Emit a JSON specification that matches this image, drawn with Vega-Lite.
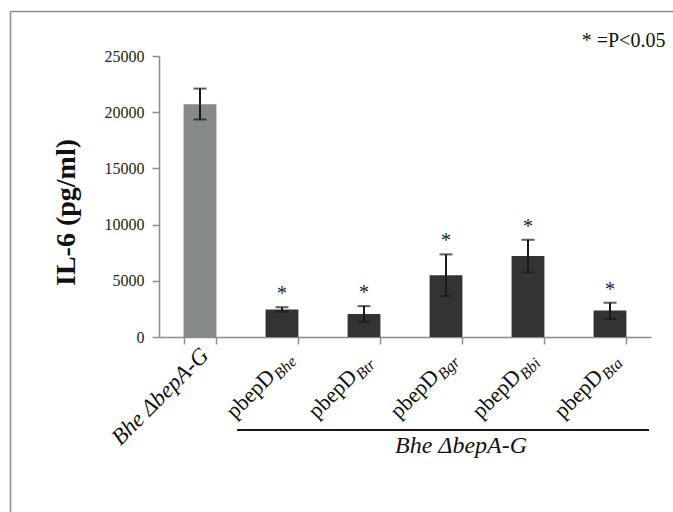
{
  "$schema": "https://vega.github.io/schema/vega-lite/v6.json",
  "autosize": "none",
  "width": 492,
  "height": 281,
  "padding": {"left": 159, "top": 56, "right": 22, "bottom": 175},
  "background": "white",
  "datasets": {
    "il6": [
      {"strain": "Bhe ΔbepA-G", "plasmid": "", "donor": "", "group": "parent", "il6": 20700, "lo": 19350, "hi": 22100, "sig": ""},
      {"strain": "pbepD Bhe", "plasmid": "pbepD", "donor": "Bhe", "group": "complemented", "il6": 2450, "lo": 2250, "hi": 2650, "sig": "*"},
      {"strain": "pbepD Btr", "plasmid": "pbepD", "donor": "Btr", "group": "complemented", "il6": 2050, "lo": 1350, "hi": 2750, "sig": "*"},
      {"strain": "pbepD Bgr", "plasmid": "pbepD", "donor": "Bgr", "group": "complemented", "il6": 5500, "lo": 3650, "hi": 7350, "sig": "*"},
      {"strain": "pbepD Bbi", "plasmid": "pbepD", "donor": "Bbi", "group": "complemented", "il6": 7200, "lo": 5750, "hi": 8650, "sig": "*"},
      {"strain": "pbepD Bta", "plasmid": "pbepD", "donor": "Bta", "group": "complemented", "il6": 2350, "lo": 1600, "hi": 3050, "sig": "*"}
    ],
    "bracket": [
      {"first": "pbepD Bhe", "last": "pbepD Bta", "middle": "pbepD Bgr", "level": -8274, "caption": "Bhe ΔbepA-G", "captionLevel": -10294}
    ],
    "note": [
      {"strain": "pbepD Bta", "level": 25830, "text": "* =P<0.05"}
    ]
  },
  "config": {
    "view": {"stroke": null},
    "axis": {"grid": false},
    "font": "Liberation Serif"
  },
  "resolve": {
    "scale": {"x": "independent", "y": "independent"},
    "axis": {"x": "independent", "y": "independent"}
  },
  "layer": [
    {
      "layer": [
        {
          "data": {"name": "il6"},
          "mark": {"type": "bar"},
          "encoding": {
            "x": {
              "field": "strain", "type": "nominal", "sort": null,
              "scale": {
                "domain": ["Bhe ΔbepA-G", "pbepD Bhe", "pbepD Btr", "pbepD Bgr", "pbepD Bbi", "pbepD Bta"],
                "paddingInner": 0.6, "paddingOuter": 0.3
              },
              "axis": {
                "orient": "bottom", "labels": false, "title": null,
                "tickBand": "extent", "tickSize": 7, "tickWidth": 1.5,
                "tickColor": "#8c8c8c", "domainColor": "#8c8c8c", "domainWidth": 1.5
              }
            },
            "y": {
              "field": "il6", "type": "quantitative",
              "scale": {"domain": [0, 25000], "nice": false},
              "axis": {
                "orient": "left",
                "values": [0, 5000, 10000, 15000, 20000, 25000],
                "format": "d",
                "labelFont": "Liberation Serif", "labelFontSize": 16, "labelColor": "#222222",
                "labelPadding": 8,
                "tickSize": 7, "tickWidth": 1.5, "tickColor": "#8c8c8c",
                "domainColor": "#8c8c8c", "domainWidth": 1.5,
                "title": "IL-6 (pg/ml)",
                "titleFont": "Liberation Serif", "titleFontSize": 28, "titleFontWeight": "bold",
                "titleColor": "#111111",
                "titleAngle": 270, "titleAlign": "center", "titleBaseline": "alphabetic",
                "titleX": -85, "titleY": 156
              }
            },
            "color": {
              "field": "group", "type": "nominal",
              "scale": {"domain": ["parent", "complemented"], "range": ["#868989", "#333333"]},
              "legend": null
            }
          }
        },
        {
          "data": {"name": "il6"},
          "mark": {"type": "rule", "color": "#1a1a1a", "strokeWidth": 2},
          "encoding": {
            "x": {"field": "strain", "type": "nominal", "sort": null},
            "y": {"field": "lo", "type": "quantitative"},
            "y2": {"field": "hi"}
          }
        },
        {
          "data": {"name": "il6"},
          "mark": {"type": "tick", "color": "#1a1a1a", "thickness": 2, "size": 13},
          "encoding": {
            "x": {"field": "strain", "type": "nominal", "sort": null},
            "y": {"field": "lo", "type": "quantitative"}
          }
        },
        {
          "data": {"name": "il6"},
          "mark": {"type": "tick", "color": "#1a1a1a", "thickness": 2, "size": 13},
          "encoding": {
            "x": {"field": "strain", "type": "nominal", "sort": null},
            "y": {"field": "hi", "type": "quantitative"}
          }
        },
        {
          "data": {"name": "il6"},
          "mark": {"type": "text", "font": "Liberation Serif", "fontSize": 20, "color": "#222222", "baseline": "alphabetic", "dy": -7},
          "encoding": {
            "x": {"field": "strain", "type": "nominal", "sort": null},
            "y": {"field": "hi", "type": "quantitative"},
            "text": {"field": "sig"}
          }
        },
        {
          "data": {"name": "il6"},
          "transform": [{"filter": "datum.group === 'parent'"}],
          "mark": {"type": "text", "font": "Liberation Serif", "fontSize": 23, "fontStyle": "italic", "color": "#111111",
                   "angle": 315, "align": "right", "baseline": "alphabetic", "dx": -7, "dy": 21},
          "encoding": {
            "x": {"field": "strain", "type": "nominal", "sort": null},
            "y": {"datum": 0, "type": "quantitative"},
            "text": {"field": "strain"}
          }
        },
        {
          "data": {"name": "il6"},
          "transform": [{"filter": "datum.group === 'complemented'"}],
          "mark": {"type": "text", "font": "Liberation Serif", "fontSize": 22, "color": "#111111",
                   "angle": 315, "align": "right", "baseline": "alphabetic", "dx": -33, "dy": 25},
          "encoding": {
            "x": {"field": "strain", "type": "nominal", "sort": null},
            "y": {"datum": 0, "type": "quantitative"},
            "text": {"field": "plasmid"}
          }
        },
        {
          "data": {"name": "il6"},
          "transform": [{"filter": "datum.group === 'complemented'"}],
          "mark": {"type": "text", "font": "Liberation Serif", "fontSize": 16, "fontStyle": "italic", "color": "#111111",
                   "angle": 315, "align": "left", "baseline": "alphabetic", "dx": -32, "dy": 29},
          "encoding": {
            "x": {"field": "strain", "type": "nominal", "sort": null},
            "y": {"datum": 0, "type": "quantitative"},
            "text": {"field": "donor"}
          }
        },
        {
          "data": {"name": "bracket"},
          "mark": {"type": "rule", "color": "#1a1a1a", "strokeWidth": 2, "x2Offset": 39},
          "encoding": {
            "x": {"field": "first", "type": "nominal", "sort": null, "bandPosition": -0.87},
            "x2": {"field": "last"},
            "y": {"field": "level", "type": "quantitative"}
          }
        },
        {
          "data": {"name": "bracket"},
          "mark": {"type": "text", "font": "Liberation Serif", "fontSize": 24, "fontStyle": "italic", "color": "#111111",
                   "align": "center", "baseline": "alphabetic", "dx": 15},
          "encoding": {
            "x": {"field": "middle", "type": "nominal", "sort": null},
            "y": {"field": "captionLevel", "type": "quantitative"},
            "text": {"field": "caption"}
          }
        },
        {
          "data": {"name": "note"},
          "mark": {"type": "text", "font": "Liberation Serif", "fontSize": 20, "color": "#111111",
                   "align": "right", "baseline": "alphabetic", "dx": 39},
          "encoding": {
            "x": {"field": "strain", "type": "nominal", "sort": null, "bandPosition": 1},
            "y": {"field": "level", "type": "quantitative"},
            "text": {"field": "text"}
          }
        }
      ]
    },
    {
      "data": {"values": [{"edge": 0}]},
      "mark": {"type": "point", "opacity": 0, "size": 0},
      "encoding": {
        "x": {
          "field": "edge", "type": "quantitative",
          "scale": {"domain": [0, 1], "range": [-149, 514], "nice": false, "zero": false},
          "axis": {"orient": "top", "offset": 45, "labels": false, "ticks": false, "title": null,
                   "domainColor": "#8f8b8b", "domainWidth": 1.5}
        },
        "y": {
          "field": "edge", "type": "quantitative",
          "scale": {"domain": [0, 1], "range": [456, -45], "nice": false, "zero": false},
          "axis": {"orient": "left", "offset": 149, "labels": false, "ticks": false, "title": null,
                   "domainColor": "#8f8b8b", "domainWidth": 1.5}
        }
      }
    }
  ]
}
